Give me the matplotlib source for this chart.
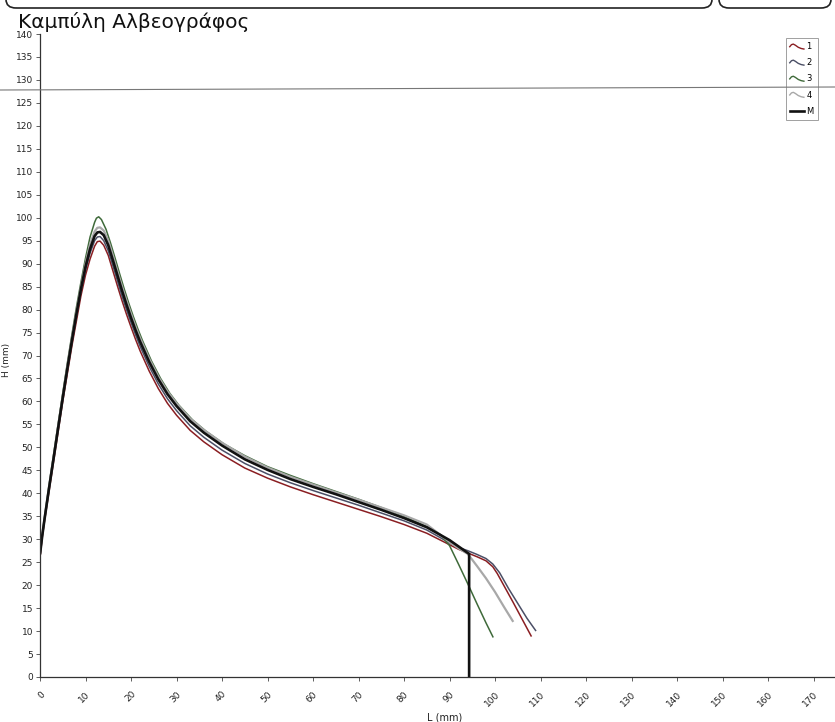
import matplotlib
matplotlib.use("Agg")
import matplotlib.pyplot as plt
from matplotlib.lines import Line2D
from matplotlib.legend_handler import HandlerBase
from matplotlib.patches import FancyBboxPatch

# ---- data ----
title = "Καμπύλη Αλβεογράφος"
x_label = "L (mm)"
y_label = "H (mm)"
x_ticks = list(range(0, 180, 10))
y_ticks = list(range(0, 145, 5))
series_names = ["1", "2", "3", "4", "M"]

# curve 1 (red)
L1 = [0, 0.5, 1, 2, 3, 4, 5, 6, 7, 8, 9, 10, 11, 12, 12.6, 13.2, 14, 15, 16, 17, 18, 19, 20, 21,
      22, 24, 26, 28, 30, 33, 36, 40, 45, 50, 55, 60, 65, 70, 75, 80, 85, 90, 92, 94, 96,
      98, 99.5, 100.5, 102, 104, 106, 108]
H1 = [26, 30.5, 34, 40.5, 47, 53.5, 60, 66, 72, 77.5, 83, 87.5, 91, 93.8, 94.8, 94.9, 94, 91.8, 88.5,
      85.2, 82, 79, 76.2, 73.5, 71, 66.6, 62.8, 59.6, 57, 53.7, 51.2, 48.4, 45.5, 43.3, 41.4,
      39.7, 38.1, 36.5, 34.9, 33.2, 31.3, 28.8, 27.8, 27, 26.2, 25.3, 24, 22.5, 19.8, 16.2,
      12.5, 8.8]

# curve 2 (dark slate)
L2 = [0, 0.5, 1, 2, 3, 4, 5, 6, 7, 8, 9, 10, 11, 12, 12.6, 13.2, 14, 15, 16, 17, 18, 19, 20, 21,
      22, 24, 26, 28, 30, 33, 36, 40, 45, 50, 55, 60, 65, 70, 75, 80, 85, 90, 92, 94, 96,
      98, 99.5, 101, 103, 105, 107, 109]
H2 = [26.5, 30.8, 34.3, 41, 47.5, 54, 60.5, 66.8, 72.8, 78.5, 84, 88.6, 92.3, 95, 95.8, 95.9, 95,
      92.8, 89.6, 86.3, 83, 80, 77.2, 74.5, 72, 67.6, 63.8, 60.6, 58, 54.7, 52.2, 49.4,
      46.5, 44.2, 42.3, 40.6, 39, 37.4, 35.7, 34, 32, 29.2, 28.2, 27.5, 26.7, 25.8, 24.6,
      22.7, 19.2, 16, 12.8, 10]

# curve 3 (green)
L3 = [0, 0.5, 1, 2, 3, 4, 5, 6, 7, 8, 9, 10, 11, 12, 12.4, 12.9, 13.5, 14.5, 15.5, 16.5, 17.5,
      18.5, 19.5, 20.5, 21.5, 22.5, 24.5, 26.5, 28.5, 30.5, 33.5, 36.5, 40.5, 45, 50, 55,
      60, 65, 70, 75, 80, 85, 88, 90, 92, 94, 96, 98, 99.6]
H3 = [27, 31, 34.8, 41.8, 48.5, 55.2, 61.8, 68.3, 74.5, 80.5, 86, 91.2, 95.8, 99, 99.9, 100.2,
      99.6, 97.5, 94.5, 91.2, 87.8, 84.5, 81.4, 78.5, 75.8, 73.3, 68.8, 65, 61.8, 59.2, 56,
      53.5, 50.7, 48.2, 45.8, 43.9, 42.1, 40.4, 38.7, 36.9, 35, 32.7, 31, 28.6, 24.5, 20.3,
      16, 11.8, 8.6]

# curve 4 (gray)
L4 = [0, 0.5, 1, 2, 3, 4, 5, 6, 7, 8, 9, 10, 11, 12, 12.6, 13.2, 14, 15, 16, 17, 18, 19, 20, 21,
      22, 24, 26, 28, 30, 33, 36, 40, 45, 50, 55, 60, 65, 70, 75, 80, 85, 90, 92, 94, 96,
      98, 100, 102, 104]
H4 = [27, 31, 34.6, 41.5, 48, 54.7, 61.2, 67.6, 73.8, 79.6, 85, 90, 94.2, 97, 97.8, 97.9, 97.2,
      95, 91.8, 88.4, 85.1, 82, 79.1, 76.3, 73.8, 69.3, 65.4, 62.2, 59.6, 56.3, 53.8, 51,
      48, 45.6, 43.6, 41.9, 40.2, 38.6, 36.9, 35.2, 33.2, 29.4, 28, 26.8, 24.2, 21.5, 18.5,
      15.2, 12]

# mean curve M (black) with its end drop
LM = [0, 0.5, 1, 2, 3, 4, 5, 6, 7, 8, 9, 10, 11, 12, 12.6, 13.2, 14, 15, 16, 17, 18, 19, 20, 21,
      22, 24, 26, 28, 30, 33, 36, 40, 45, 50, 55, 60, 65, 70, 75, 80, 85, 90, 94.3, 94.3]
HM = [26.7, 30.8, 34.4, 41.2, 47.7, 54.3, 60.8, 67.1, 73.2, 79, 84.5, 89.3, 93.2, 96,
      96.8, 96.9, 96.2, 94, 90.8, 87.5, 84.2, 81.1, 78.2, 75.5, 73, 68.6, 64.8, 61.6, 59, 55.7,
      53.2, 50.4, 47.4, 45.1, 43.1, 41.4, 39.8, 38.1, 36.4, 34.6, 32.6, 29.8, 26.8, 0]

curves = [(L1, H1), (L2, H2), (L3, H3), (L4, H4), (LM, HM)]
colors = ["#8a1e22", "#4b4f66", "#3f6a3a", "#a8a8a8", "#111111"]
widths = [1.1, 1.1, 1.1, 1.6, 1.9]

# ---- figure ----
W, Hpx = 835, 722
fig = plt.figure(figsize=(W / 100, Hpx / 100), dpi=100)
fig.patch.set_facecolor("white")

ax_left, ax_right, ax_bottom, ax_top = 40, 835, 677, 34
ax = fig.add_axes([ax_left / W, (Hpx - ax_bottom) / Hpx,
                   (ax_right - ax_left) / W, (ax_bottom - ax_top) / Hpx])

for (L, H), c, lw in zip(curves, colors, widths):
    ax.plot(L, H, color=c, lw=lw, solid_capstyle="butt", solid_joinstyle="round")

ax.set_xlim(0, 174.7)
ax.set_ylim(0, 140)
ax.set_xticks(x_ticks)
ax.set_yticks(y_ticks)
ax.set_xticklabels([str(t) for t in x_ticks], rotation=45, ha="right",
                   rotation_mode="anchor", fontsize=6.5, color="#222222")
ax.set_yticklabels([str(t) for t in y_ticks], fontsize=6.5, color="#222222")
ax.tick_params(axis="both", length=3, width=0.6, color="#444444", pad=2)
ax.tick_params(axis="x", pad=6)
for s in ["top", "right"]:
    ax.spines[s].set_visible(False)
for s in ["left", "bottom"]:
    ax.spines[s].set_linewidth(0.9)
    ax.spines[s].set_color("#333333")

ax.set_xlabel(x_label, fontsize=7, color="#222222", labelpad=-2)
ax.xaxis.set_label_coords((445 - ax_left) / (ax_right - ax_left), -0.055)
ax.set_ylabel(y_label, fontsize=6.5, color="#222222")
ax.yaxis.set_label_coords(-0.037, (ax_bottom - 360) / (ax_bottom - ax_top))

fig.text(18 / W, 1 - 22 / Hpx, title, fontsize=14.5, color="#111111",
         ha="left", va="center")


# wavy legend icons
class WaveHandler(HandlerBase):
    def create_artists(self, legend, orig_handle, xdescent, ydescent, width, height,
                       fontsize, trans):
        fx = [0.0, 0.12, 0.25, 0.4, 0.6, 0.8, 1.0]
        fy = [0.45, 0.8, 0.9, 0.7, 0.35, 0.15, 0.05]
        xs = [-xdescent + width * f for f in fx]
        ys = [-ydescent + height * f for f in fy]
        ln = Line2D(xs, ys, color=orig_handle.get_color(), lw=1.0, transform=trans)
        return [ln]


handles = [Line2D([], [], color=c, lw=lw) for c, lw in zip(colors, widths)]
handler_map = {h: WaveHandler() for h in handles[:4]}
leg = ax.legend(handles, series_names, loc="upper right",
                bbox_to_anchor=((822 - ax_left) / (ax_right - ax_left), 1.0),
                fontsize=6, handlelength=1.7, handletextpad=0.3, labelspacing=0.85,
                borderpad=0.5, frameon=True, fancybox=False, handler_map=handler_map)
leg.get_frame().set_edgecolor("#888888")
leg.get_frame().set_linewidth(0.7)

# horizontal line of the printed sheet crossing the chart
fig.add_artist(Line2D([0, 1], [1 - 90 / Hpx, 1 - 87 / Hpx], transform=fig.transFigure,
                      color="#777777", lw=0.8))

# rounded boxes of the sheet at the top edge
fig.add_artist(FancyBboxPatch((6 / W, 1 - 8 / Hpx), 706 / W, 0.1,
                              boxstyle="round,pad=0,rounding_size=0.012",
                              transform=fig.transFigure, fill=False, lw=1.2,
                              edgecolor="#222222"))
fig.add_artist(FancyBboxPatch((719 / W, 1 - 8 / Hpx), 112 / W, 0.1,
                              boxstyle="round,pad=0,rounding_size=0.012",
                              transform=fig.transFigure, fill=False, lw=1.2,
                              edgecolor="#222222"))

fig.savefig("out.png", dpi=100)
